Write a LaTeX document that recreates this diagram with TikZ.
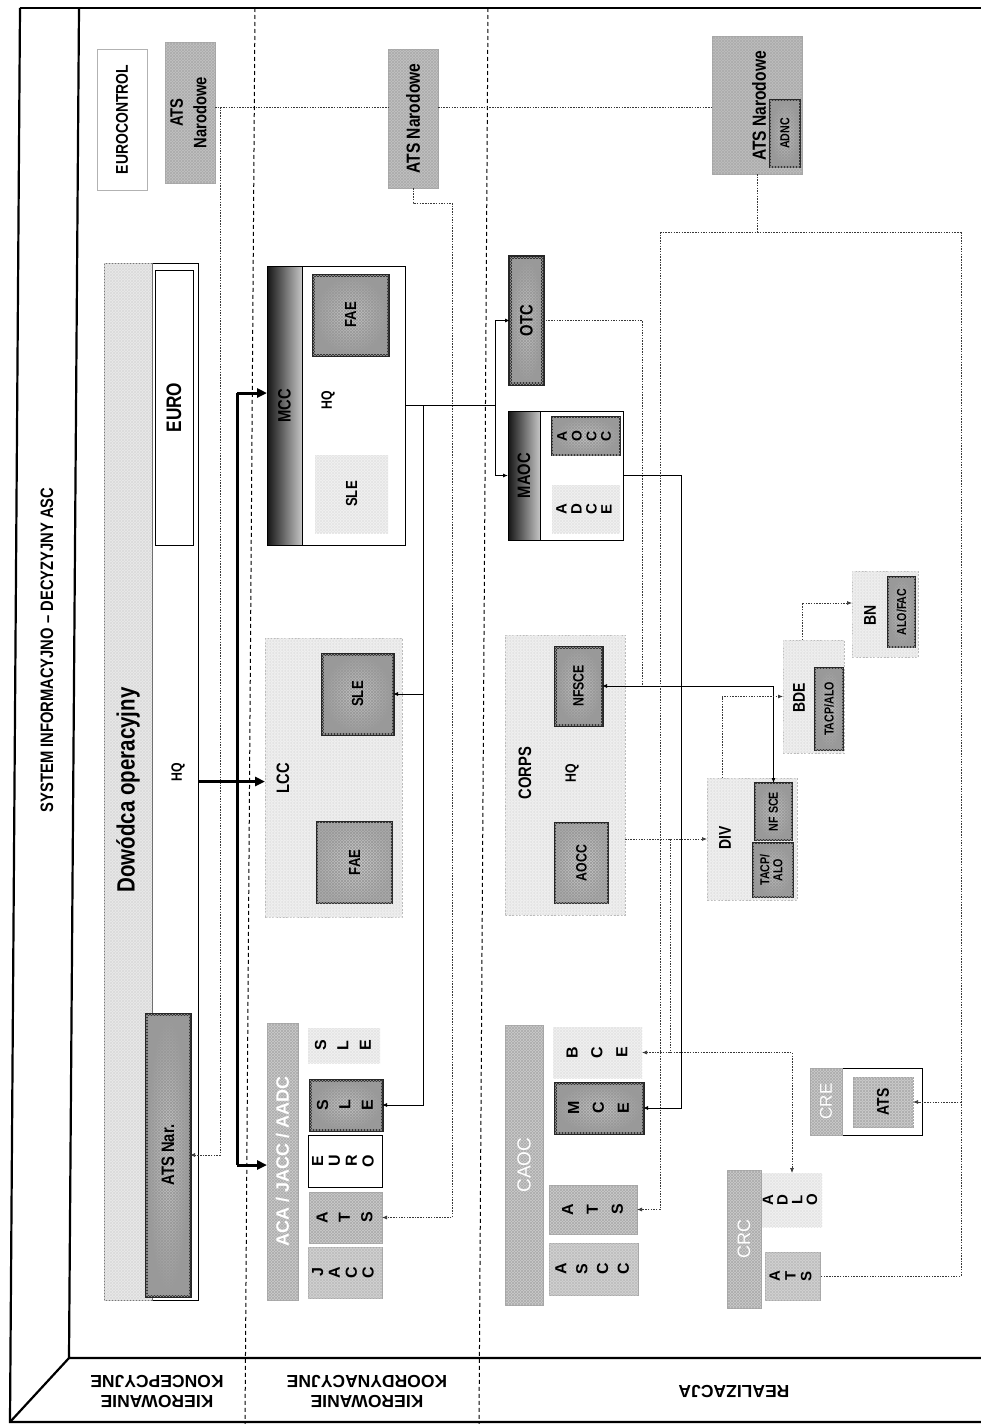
\documentclass[tikz,border=0pt]{standalone}
\usepackage{fontspec}
\setmainfont{Liberation Sans}
\newfontfamily\nar[FakeStretch=0.82]{Liberation Sans}
\usepackage{graphicx}
\usetikzlibrary{arrows.meta,patterns}
\newcommand{\rt}[1]{\rotatebox{90}{#1}}
\newcommand{\stk}[2]{\rotatebox{90}{\renewcommand{\arraystretch}{#1}\begin{tabular}{@{}c@{}}#2\end{tabular}}}
\newcommand{\fsz}[1]{\fontsize{#1}{#1}\selectfont}
\begin{document}
\begin{tikzpicture}[x=1pt,y=-1pt,
  every node/.style={inner sep=0pt, outer sep=0pt},
  hatch/.style={postaction={pattern=north east lines, pattern color=#1}, postaction={pattern=north west lines, pattern color=#1}},
  whitebox/.style={draw=black, line width=0.9, fill=white},
  lightbox/.style={draw=gray!55, dash pattern=on 2pt off 1.5pt, line width=0.8, fill=gray!12, hatch=gray!22},
  pale/.style={fill=gray!10, hatch=gray!20},
  midbox/.style={draw=gray!70, line width=0.8, fill=gray!40, hatch=gray!65},
  darkbox/.style={draw=black!85, line width=3, inner color=gray!40, outer color=gray!80, hatch=gray!80},
  gradbar/.style={draw=black, line width=0.8, left color=black!92, right color=gray!45},
  lbl/.style={font=\nar\bfseries\fsz{#1}},
  let/.style={font=\bfseries\fsz{#1}},
  sep/.style={draw=black, line width=1, dash pattern=on 4pt off 3pt},
  dot/.style={draw=gray!45!black, line width=0.7, dash pattern=on 1.5pt off 1.2pt},
  ln/.style={draw=black, line width=0.9},
  thk/.style={draw=black, line width=3},
  arr/.style={-{Latex[length=5pt,width=4pt]}},
  darr/.style={{Latex[length=5pt,width=4pt]}-{Latex[length=5pt,width=4pt]}},
  tarr/.style={-{Triangle[length=10pt,width=9pt]}}
]
\useasboundingbox (0,0) rectangle (981,1424);
\fill[white] (0,0) rectangle (981,1424);

% frame
\draw[line width=2.2] (20,8) -- (981,8);
\draw[line width=2.2] (20,8) -- (10,1422) -- (981,1422);
\draw[line width=2.2] (79,8) -- (69,1358) -- (981,1358);
\draw[line width=2.2] (69,1358) -- (10,1422);
\draw[sep] (255,8) -- (245,1424);
\draw[sep] (488,8) -- (479,1424);

% titles
\node[rotate=90, font=\nar\bfseries\fsz{18}] (title) at (47,650) {SYSTEM INFORMACYJNO – DECYZYJNY ASC};
\node[rotate=180, align=center, font=\bfseries\fontsize{17.5}{20}\selectfont] (lab1) at (157,1392) {KIEROWANIE\\KONCEPCYJNE};
\node[rotate=180, align=center, font=\bfseries\fontsize{17.5}{20}\selectfont] (lab2) at (367,1392) {KIEROWANIE\\KOORDYNACYJNE};
\node[rotate=180, font=\bfseries\fontsize{17.5}{20}\selectfont] (lab3) at (734,1392) {REALIZACJA};

% ===== column 1
\node[whitebox, draw=gray!60, minimum width=50, minimum height=141, lbl=17] (euroctl) at (122,119.5) {\rt{EUROCONTROL}};
\node[midbox, fill=gray!48, minimum width=50, minimum height=141, lbl=18] (atsn1) at (190,112.5) {\stk{1.3}{ATS\\Narodowe}};
\node[whitebox, minimum width=94, minimum height=1037] (dowbox) at (151,781.5) {};
\node[draw=black!60, line width=0.6, fill=gray!16, hatch=gray!28, minimum width=48, minimum height=1037] (dowbar) at (128,781.5) {};
\node[lbl=25] (dowt) at (128,790) {\rt{Dowódca operacyjny}};
\node[whitebox, minimum width=38, minimum height=275, lbl=21] (euro) at (174,407.5) {\rt{EURO}};
\node[lbl=15] (hq1) at (178,772) {\rt{HQ}};
\node[darkbox, minimum width=44, minimum height=282, lbl=18] (atsnar) at (168,1155) {\rt{ATS Nar.}};

% ===== column 2
\node[midbox, fill=gray!48, minimum width=50, minimum height=139, lbl=19] (atsn2) at (413,118.5) {\rt{ATS Narodowe}};
\node[whitebox, minimum width=138, minimum height=279] (mcc) at (336,405.5) {};
\node[gradbar, minimum width=35, minimum height=279, lbl=18] (mccbar) at (284.5,405.5) {\rt{MCC}};
\node[lbl=15] (hq2) at (328,400) {\rt{HQ}};
\node[darkbox, minimum width=75, minimum height=80, lbl=16] (fae1) at (350.5,315) {\rt{FAE}};
\node[pale, minimum width=73, minimum height=78, lbl=16] (sle1) at (351.5,494) {\rt{SLE}};

\node[lightbox, minimum width=137, minimum height=279] (lcc) at (333.5,777.5) {};
\node[lbl=18] (lcct) at (283,778) {\rt{LCC}};
\node[darkbox, minimum width=71, minimum height=80, lbl=16] (sle2) at (357.5,694) {\rt{SLE}};
\node[darkbox, draw=gray!30!black, line width=2, inner color=gray!35, outer color=gray!65, minimum width=75, minimum height=81, lbl=16] (fae2) at (354.5,862.5) {\rt{FAE}};

\node[midbox, minimum width=31, minimum height=277, font=\bfseries\fsz{18}, text=white] (aca) at (282.5,1161.5) {\rt{ACA / JACC / AADC}};
\node[pale, minimum width=72, minimum height=35, let=16] (slel) at (344,1045.5) {\stk{1.4}{S\\L\\E}};
\node[darkbox, minimum width=72, minimum height=50, let=16] (slea) at (346,1105) {\stk{1.4}{S\\L\\E}};
\node[whitebox, minimum width=74, minimum height=52, let=16] (euroa) at (345,1161) {\stk{1.05}{E\\U\\R\\O}};
\node[midbox, minimum width=73, minimum height=51, let=16] (atsa) at (345.5,1217.5) {\stk{1.4}{A\\T\\S}};
\node[midbox, fill=gray!28, hatch=gray!48, minimum width=74, minimum height=51, let=16] (jacc) at (345,1272.5) {\stk{1.05}{J\\A\\C\\C}};

% ===== column 3
\node[midbox, fill=gray!50, minimum width=90, minimum height=138] (atsn3) at (757,105) {};
\node[lbl=19] (atsn3t) at (759,106) {\rt{ATS Narodowe}};
\node[darkbox, line width=1.6, minimum width=30, minimum height=67, lbl=13] (adnc) at (785,133.5) {\rt{ADNC}};

\node[darkbox, line width=3.5, minimum width=33, minimum height=127, lbl=18] (otc) at (526.5,320.5) {\rt{OTC}};
\node[whitebox, minimum width=115, minimum height=129] (maoc) at (565.5,475.5) {};
\node[gradbar, minimum width=32, minimum height=129, lbl=18] (maocbar) at (524,475.5) {\rt{MAOC}};
\node[darkbox, line width=2, minimum width=68, minimum height=38, let=14] (aoccm) at (586,436) {\stk{1.05}{A\\O\\C\\C}};
\node[pale, minimum width=68, minimum height=48, let=15] (adce) at (586,509) {\stk{1.0}{A\\D\\C\\E}};

\node[lightbox, minimum width=120, minimum height=280] (corps) at (565,775) {};
\node[lbl=18] (corpst) at (525,773) {\rt{CORPS}};
\node[lbl=15] (hq3) at (572,773) {\rt{HQ}};
\node[darkbox, minimum width=47, minimum height=78, lbl=15] (nfscec) at (578.5,686) {\rt{NFSCE}};
\node[darkbox, draw=gray!30!black, line width=2, inner color=gray!35, outer color=gray!65, minimum width=53, minimum height=80, lbl=15] (aoccc) at (581.5,863) {\rt{AOCC}};

\node[lightbox, minimum width=90, minimum height=122] (div) at (752,839) {};
\node[lbl=17] (divt) at (725,838) {\rt{DIV}};
\node[darkbox, line width=2, minimum width=37, minimum height=57, lbl=13] (nfsced) at (773.5,811.5) {\rt{NF SCE}};
\node[darkbox, line width=2, minimum width=40, minimum height=54, lbl=13] (tacpd) at (773,870) {\stk{1.0}{TACP/\\ALO}};

\node[lightbox, minimum width=61, minimum height=113] (bde) at (813.5,696.5) {};
\node[lbl=17] (bdet) at (799,698) {\rt{BDE}};
\node[darkbox, line width=1.8, minimum width=28, minimum height=82, lbl=13] (tacpb) at (829,709) {\rt{TACP/ALO}};

\node[lightbox, minimum width=66, minimum height=86] (bn) at (885,614) {};
\node[lbl=17] (bnt) at (870,615) {\rt{BN}};
\node[darkbox, line width=1.8, minimum width=27, minimum height=70, lbl=13] (alofac) at (901.5,612) {\rt{ALO/FAC}};

\node[midbox, minimum width=38, minimum height=280, font=\fsz{19}, text=white] (caoc) at (524,1165) {\rt{CAOC}};
\node[pale, minimum width=89, minimum height=51, let=16] (bce) at (597.5,1052.5) {\stk{1.55}{B\\C\\E}};
\node[darkbox, minimum width=88, minimum height=50, let=16] (mce) at (599,1108) {\stk{1.55}{M\\C\\E}};
\node[midbox, minimum width=88, minimum height=49, let=16] (atsc) at (593,1209.5) {\stk{1.55}{A\\T\\S}};
\node[midbox, fill=gray!28, hatch=gray!48, minimum width=89, minimum height=52, let=16] (ascc) at (593.5,1269) {\stk{1.3}{A\\S\\C\\C}};

\node[midbox, minimum width=34, minimum height=138, font=\fsz{18}, text=white] (crc) at (744,1239) {\rt{CRC}};
\node[pale, minimum width=60, minimum height=54, let=15] (adlo) at (792,1200) {\stk{0.95}{A\\D\\L\\O}};
\node[midbox, fill=gray!28, hatch=gray!48, minimum width=55, minimum height=48, let=15] (atscrc) at (792.5,1276) {\stk{1.05}{A\\T\\S}};

\node[whitebox, minimum width=112, minimum height=67] (cre) at (866,1101.5) {};
\node[midbox, minimum width=32, minimum height=67, font=\fsz{17}, text=white] (crebar) at (826,1101.5) {\rt{CRE}};
\node[midbox, dash pattern=on 2pt off 1pt, minimum width=60, minimum height=50, lbl=17] (atscre) at (883,1102) {\rt{ATS}};

% ===== connectors
\coordinate (v1) at (220,107);
\draw[dot] (atsn1.east |- v1) -- (atsn2.west |- v1);
\draw[dot] (atsn2.east |- v1) -- (atsn3.west |- v1);
\draw[dot, arr] (v1) |- (atsnar.east);

\coordinate (tA) at (237,393);
\coordinate (tB) at (237,1165);
\draw[thk] (tA) -- (tB);
\draw[thk] (dowbox.east) -- (dowbox.east -| tA);
\draw[thk, tarr] (tA) -- (tA -| mcc.west);
\draw[thk, tarr] (dowbox.east -| tA) -- (dowbox.east -| lcc.west);
\draw[thk, tarr] (tB) -- (tB -| aca.west);

\coordinate (c452) at (452,203);
\draw[dot, arr] (atsn2.south) |- (c452) |- (atsa.east);

\coordinate (jm) at (495,405.5);
\draw[ln] (mcc.east) -- (jm);
\draw[ln, arr] (jm) |- (otc.west);
\draw[ln, arr] (jm) |- (maoc.west);
\coordinate (js) at (423,405.5);
\draw[ln, arr] (js) |- (sle2.east);
\draw[ln, arr] (js) |- (slea.east);

\coordinate (jn) at (773.5,686);
\coordinate (jo) at (642,686);
\draw[dot] (otc.east) -| (jo);
\draw[ln, darr] (nfscec.east) -- (jn) -- (nfsced.north);

\coordinate (ja) at (681,475.5);
\draw[ln, arr] (maoc.east) -- (ja) |- (mce.east);

\coordinate (r1) at (660,232);
\coordinate (r2) at (961,232);
\draw[dot] (atsn3.south) -- (atsn3.south |- r1);
\draw[dot] (r1) -- (r2);
\draw[dot, arr] (r1) |- (atsc.east);
\draw[dot] (r2) |- (atscrc.east);
\draw[dot, arr] (r2 |- atscre.east) -- (atscre.east);

\coordinate (jb) at (670,839);
\draw[dot, arr] (corps.east |- div.west) -- (div.west);
\draw[dot] (jb) -- (jb |- bce.east);
\draw[dot, darr] (bce.east) -| (adlo.north);

\draw[dot, arr] ([xshift=-30pt]div.north) |- (bde.west);
\draw[dot, arr] ([xshift=-11.5pt]bde.north) |- ([yshift=11pt]bn.west);
\end{tikzpicture}
\end{document}
